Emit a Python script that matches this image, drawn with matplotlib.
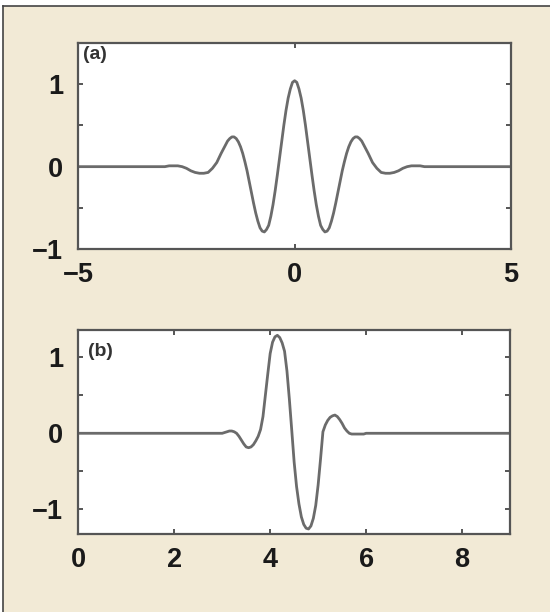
import numpy as np
import matplotlib
matplotlib.use("Agg")
import matplotlib.pyplot as plt
from matplotlib.lines import Line2D
from matplotlib.patches import Rectangle

# (a) symmetric wavelet
xa = np.concatenate([[-5.0],
                     np.round(np.arange(-3.0, -1.65, 0.1), 2),
                     np.round(np.arange(-1.6, 1.625, 0.05), 2),
                     np.round(np.arange(1.7, 3.05, 0.1), 2),
                     [5.0]])
ya = [0.0,
      # -3.0 .. -1.7
      0.00, 0.01, 0.01, 0.01, 0.00, -0.02, -0.05, -0.07, -0.08, -0.08,
      -0.07, -0.02, 0.05, 0.16,
      # -1.6 .. 1.6
      0.26, 0.31, 0.34, 0.36, 0.36, 0.34, 0.30, 0.24, 0.16, 0.06,
      -0.05, -0.18, -0.31, -0.44, -0.56, -0.66, -0.74, -0.78, -0.79, -0.76,
      -0.71, -0.60, -0.46, -0.29, -0.10, 0.10, 0.30, 0.50, 0.68, 0.83,
      0.94, 1.02, 1.04, 1.02, 0.94,
      0.83, 0.68, 0.50, 0.30, 0.10, -0.10, -0.29, -0.46, -0.60, -0.71,
      -0.76, -0.79, -0.78, -0.74, -0.66, -0.56, -0.44, -0.31, -0.18, -0.05,
      0.06, 0.16, 0.24, 0.30, 0.34, 0.36, 0.36, 0.34, 0.31, 0.26,
      # 1.7 .. 3.0
      0.16, 0.05, -0.02, -0.07, -0.08, -0.08, -0.07, -0.05, -0.02, 0.00,
      0.01, 0.01, 0.01, 0.00,
      0.0]

# (b) asymmetric wavelet
xb = np.concatenate([[0.0], np.round(np.arange(3.0, 6.025, 0.05), 2), [9.0]])
yb = [0.0,
      0.00, 0.01, 0.02, 0.03, 0.03, 0.02, 0.00, -0.04, -0.09, -0.14,
      -0.18, -0.19, -0.18, -0.15, -0.10, -0.04, 0.05, 0.22, 0.50, 0.78,
      1.05, 1.20, 1.27, 1.29, 1.26, 1.19, 1.08, 0.82, 0.45, 0.04,
      -0.38, -0.70, -0.93, -1.10, -1.20, -1.25, -1.26, -1.22, -1.12, -0.95,
      -0.68, -0.34, 0.02, 0.11, 0.17, 0.21, 0.23, 0.24, 0.22, 0.18,
      0.13, 0.07, 0.03, 0.00, -0.01, -0.01, -0.01, -0.01, -0.01, -0.01,
      0.00,
      0.0]

xticks_a = [-5, 0, 5]
xticks_b = [0, 2, 4, 6, 8]
yticks_a = [-1, -0.5, 0, 0.5, 1, 1.5]
yticks_b = [-1, -0.5, 0, 0.5, 1]

beige = '#f2ead6'
spine = '#555555'
curve = '#6b6b6b'

plt.rcParams['font.family'] = ['Liberation Sans', 'DejaVu Sans']

fig = plt.figure(figsize=(5.5, 6.12), dpi=100, facecolor='white')
W, H = 550.0, 612.0
# beige panel with dark rule on left and top
fig.patches.append(Rectangle((3 / W, 0), 1, 1 - 6 / H, transform=fig.transFigure,
                             facecolor=beige, edgecolor='none', zorder=-2))
fig.lines.append(Line2D([3 / W, 3 / W], [0, 1 - 6 / H], transform=fig.transFigure,
                        color='#444444', lw=1.2))
fig.lines.append(Line2D([3 / W, 1], [1 - 6 / H, 1 - 6 / H], transform=fig.transFigure,
                        color='#444444', lw=1.2))


def style_axis(ax, xt, yt, xlim, ylim):
    ax.set_xlim(*xlim)
    ax.set_ylim(*ylim)
    ax.set_xticks(xt)
    ax.set_xticklabels([str(t).replace('-', '\u2212') for t in xt])
    ax.set_yticks(yt)
    ax.set_yticklabels(['\u22121' if t == -1 else ('0' if t == 0 else ('1' if t == 1 else ''))
                        for t in yt])
    ax.tick_params(direction='in', length=3.5, width=1.4, color=spine,
                   top=True, right=True, labelsize=19.5, labelcolor='#1a1a1a', pad=9)
    ax.tick_params(axis='y', pad=11)
    for lab in ax.get_xticklabels() + ax.get_yticklabels():
        lab.set_fontweight('bold')
    for s in ax.spines.values():
        s.set_color(spine)
        s.set_linewidth(1.6)
    ax.set_facecolor('white')


ax1 = fig.add_axes([78.3 / W, 1 - 249.3 / H, (511 - 78.3) / W, (249.3 - 42.7) / H])
ax1.plot(xa, ya, color=curve, lw=2.0, solid_capstyle='round', solid_joinstyle='round')
style_axis(ax1, xticks_a, yticks_a, (-5, 5), (-1, 1.5))
ax1.text(0.01, 0.985, '(a)', transform=ax1.transAxes, ha='left', va='top',
         fontsize=14, fontweight='bold', color='#333333')

ax2 = fig.add_axes([78.3 / W, 1 - 534.3 / H, (510 - 78.3) / W, (534.3 - 330) / H])
ax2.plot(xb, yb, color=curve, lw=2.0, solid_capstyle='round', solid_joinstyle='round')
style_axis(ax2, xticks_b, yticks_b, (0, 9), (-1.33, 1.36))
ax2.text(0.022, 0.935, '(b)', transform=ax2.transAxes, ha='left', va='top',
         fontsize=14, fontweight='bold', color='#333333')

fig.savefig('out.png', dpi=100, facecolor=fig.get_facecolor())
